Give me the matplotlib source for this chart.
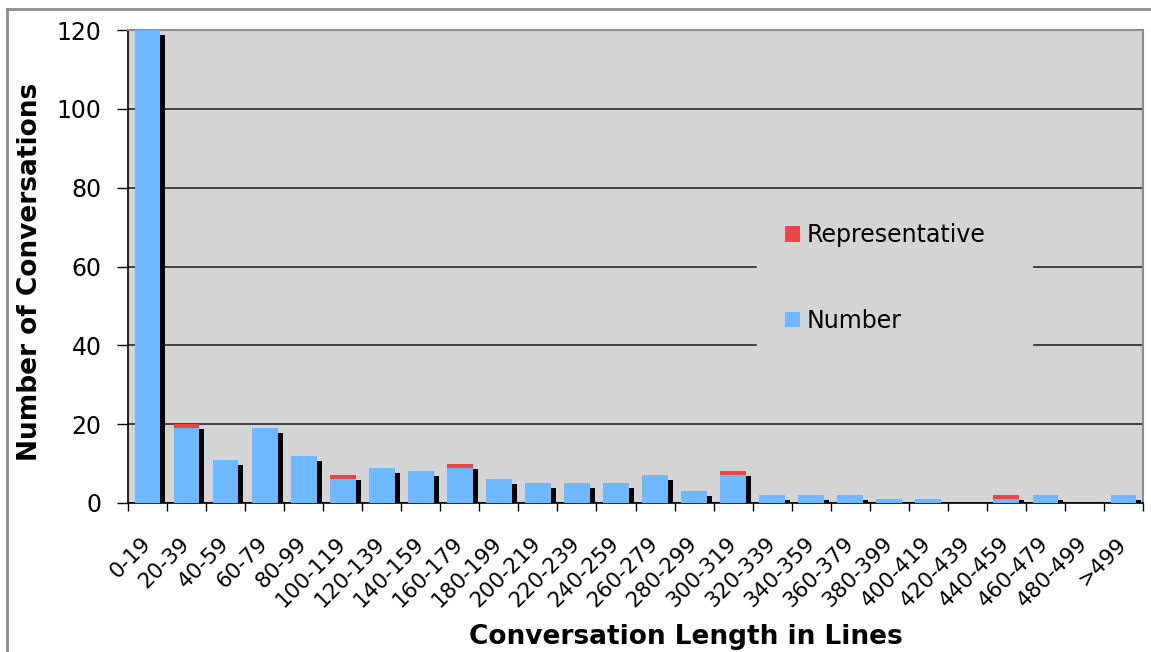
import numpy as np
import matplotlib
matplotlib.use('Agg')
import matplotlib.pyplot as plt
from matplotlib.patches import Patch
from matplotlib.lines import Line2D

# Data
categories = ['0-19', '20-39', '40-59', '60-79', '80-99', '100-119', '120-139',
              '140-159', '160-179', '180-199', '200-219', '220-239', '240-259',
              '260-279', '280-299', '300-319', '320-339', '340-359', '360-379',
              '380-399', '400-419', '420-439', '440-459', '460-479', '480-499', '>499']
number = [120, 19, 11, 19, 12, 6, 9, 8, 9, 6, 5, 5, 5, 7, 3, 7, 2, 2, 2, 1, 1, 0, 1, 2, 0, 2]
representative = [0, 1, 0, 0, 0, 1, 0, 0, 1, 0, 0, 0, 0, 0, 0, 1, 0, 0, 0, 0, 0, 0, 1, 0, 0, 0]

blue = '#6DB8FF'
red = '#E84545'
plot_bg = '#D4D4D4'

fig = plt.figure(figsize=(11.51, 6.52), dpi=100)
ax = fig.add_axes([128 / 1151, 1 - 503 / 652, 1015 / 1151, 473 / 652])
ax.set_facecolor(plot_bg)

x = np.arange(len(categories))
number = np.array(number)
representative = np.array(representative)
total = number + representative
width = 0.66

# drop shadow: same bar shifted right and down
dx, dy = 0.128, 1.27
ax.bar(x + dx, total, width, bottom=-dy, color='black', zorder=2)
ax.bar(x, number, width, color=blue, zorder=3)
ax.bar(x, representative, width, bottom=number, color=red, zorder=3)

ax.set_xlim(-0.5, len(categories) - 0.5)
ax.set_ylim(0, 120)

# gridlines
ax.set_yticks(range(0, 121, 20))
ax.yaxis.grid(True, color='#1a1a1a', linewidth=1.1)
ax.set_axisbelow(True)

ax.tick_params(axis='y', labelsize=17, length=8, width=1, direction='out', pad=11)

# boundary ticks on x axis, labels at the bar centres
ax.set_xticks(np.arange(len(categories) + 1) - 0.5, minor=True)
ax.tick_params(axis='x', which='minor', length=6, width=1, direction='out')
ax.set_xticks(x)
ax.set_xticklabels(categories, fontsize=15.5)
ax.tick_params(axis='x', which='major', length=0, pad=27)
for lab in ax.get_xticklabels():
    lab.set_rotation(45)
    lab.set_ha('right')
    lab.set_va('center')
    lab.set_rotation_mode('anchor')

for side in ['left', 'bottom']:
    ax.spines[side].set_color('black')
    ax.spines[side].set_linewidth(1.2)
for side in ['top', 'right']:
    ax.spines[side].set_color('#8c8c8c')
    ax.spines[side].set_linewidth(1.5)

ax.set_ylabel('Number of Conversations', fontsize=19, fontweight='bold')
ax.yaxis.set_label_coords(-0.084, 0.488)
ax.set_xlabel('Conversation Length in Lines', fontsize=19, fontweight='bold', va='top')
ax.xaxis.set_label_coords(0.55, -0.255)

handles = [Patch(facecolor=red, edgecolor='none', label='Representative'),
           Patch(facecolor=blue, edgecolor='none', label='Number')]
leg = ax.legend(handles=handles, loc='upper left', mode='expand',
                bbox_to_anchor=(757 / 1151, 1 - 355 / 652, 275 / 1151, 160 / 652),
                bbox_transform=fig.transFigure, fontsize=17,
                frameon=True, fancybox=False, facecolor=plot_bg, edgecolor=plot_bg,
                framealpha=1, handlelength=0.62, handleheight=0.62,
                handletextpad=0.3, labelspacing=2.6, borderpad=1.2,
                borderaxespad=0)
leg.set_zorder(5)

# outer frame partially visible (top and left)
fig.add_artist(Line2D([7 / 1151, 1.0], [1 - 9 / 652, 1 - 9 / 652],
                      transform=fig.transFigure, color='#8c8c8c', linewidth=2))
fig.add_artist(Line2D([7 / 1151, 7 / 1151], [0.0, 1 - 9 / 652],
                      transform=fig.transFigure, color='#8c8c8c', linewidth=2))

fig.savefig('out.png', dpi=100, facecolor='white')
